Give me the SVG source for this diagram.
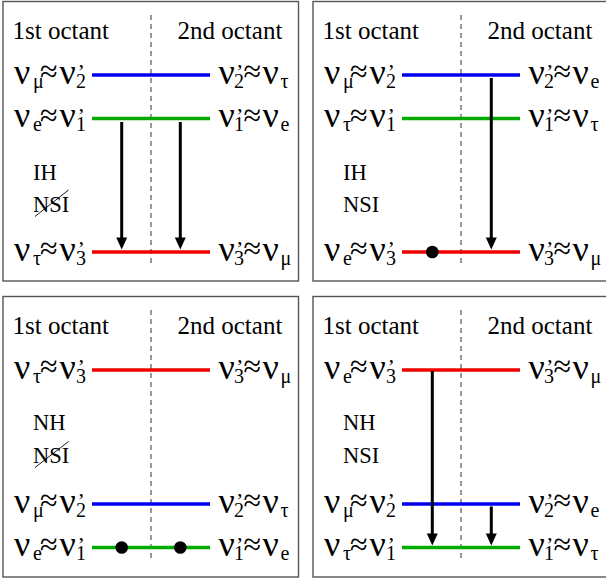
<svg xmlns="http://www.w3.org/2000/svg" width="606" height="583" viewBox="0 0 606 583">
<style>
text{font-family:"Liberation Serif"}
.o{font-size:25px}
.t{font-size:22.5px}
.b{font-size:36px}
.a{font-size:32px}
.s{font-size:20px}
.p{font-size:22px}
.fr{fill:#fff;stroke:#555;stroke-width:1.4}
.d{stroke:#555;stroke-width:1.2;stroke-dasharray:5 4}
.lv{stroke-width:3.5}
.B{stroke:#0000f0}
.G{stroke:#00aa00}
.R{stroke:#f00000}
.k{stroke:#000;stroke-width:.9}
.sh{stroke:#000;stroke-width:3}
.hd{fill:#000}
</style>
<rect width="606" height="583" fill="#fff"/>
<g id="panel1">
<rect class="fr" x="3" y="1.5" width="295.5" height="279.5"/>
<line class="d" x1="151" y1="15" x2="151" y2="267"/>
<text class="o" x="12.5" y="39">1st octant</text><text class="o" x="177.5" y="39">2nd octant</text>
<text class="t" x="33" y="180">IH</text><text class="t" x="33" y="211.5">NSI</text>
<line class="k" x1="35" y1="216.5" x2="68.5" y2="190"/>
<g id="p1-level2"><line class="lv B" x1="92" y1="75" x2="210" y2="75"/>
<text><tspan class="b" x="14" y="83.5">ν</tspan><tspan class="s" x="33" y="87.5">μ</tspan><tspan class="a" x="40" y="82">≈</tspan><tspan class="b" x="59.5" y="83.5">ν</tspan><tspan class="p" x="77.5" y="79">’</tspan><tspan class="s" x="76" y="87.5">2</tspan></text>
<text><tspan class="b" x="218.5" y="83.5">ν</tspan><tspan class="p" x="236" y="79">’</tspan><tspan class="s" x="234" y="87.5">2</tspan><tspan class="a" x="243.5" y="82">≈</tspan><tspan class="b" x="262.5" y="83.5">ν</tspan><tspan class="s" x="280.5" y="87.5">τ</tspan></text></g>
<g id="p1-level1"><line class="lv G" x1="92" y1="118.5" x2="210" y2="118.5"/>
<text><tspan class="b" x="14" y="127">ν</tspan><tspan class="s" x="33" y="131">e</tspan><tspan class="a" x="40" y="125.5">≈</tspan><tspan class="b" x="59.5" y="127">ν</tspan><tspan class="p" x="77.5" y="122.5">’</tspan><tspan class="s" x="76" y="131">1</tspan></text>
<text><tspan class="b" x="218.5" y="127">ν</tspan><tspan class="p" x="236" y="122.5">’</tspan><tspan class="s" x="234" y="131">1</tspan><tspan class="a" x="243.5" y="125.5">≈</tspan><tspan class="b" x="262.5" y="127">ν</tspan><tspan class="s" x="280.5" y="131">e</tspan></text></g>
<g id="p1-level3"><line class="lv R" x1="92" y1="252" x2="210" y2="252"/>
<text><tspan class="b" x="14" y="260.5">ν</tspan><tspan class="s" x="33" y="264.5">τ</tspan><tspan class="a" x="40" y="259">≈</tspan><tspan class="b" x="59.5" y="260.5">ν</tspan><tspan class="p" x="77.5" y="256">’</tspan><tspan class="s" x="76" y="264.5">3</tspan></text>
<text><tspan class="b" x="218.5" y="260.5">ν</tspan><tspan class="p" x="236" y="256">’</tspan><tspan class="s" x="234" y="264.5">3</tspan><tspan class="a" x="243.5" y="259">≈</tspan><tspan class="b" x="262.5" y="260.5">ν</tspan><tspan class="s" x="280.5" y="264.5">μ</tspan></text></g>
</g>
<g id="panel2" transform="translate(310,0)">
<rect class="fr" x="3" y="1.5" width="295.5" height="279.5"/>
<line class="d" x1="151" y1="15" x2="151" y2="267"/>
<text class="o" x="12.5" y="39">1st octant</text><text class="o" x="177.5" y="39">2nd octant</text>
<text class="t" x="33" y="180">IH</text><text class="t" x="33" y="211.5">NSI</text>
<g id="p2-level2"><line class="lv B" x1="92" y1="75" x2="210" y2="75"/>
<text><tspan class="b" x="14" y="83.5">ν</tspan><tspan class="s" x="33" y="87.5">μ</tspan><tspan class="a" x="40" y="82">≈</tspan><tspan class="b" x="59.5" y="83.5">ν</tspan><tspan class="p" x="77.5" y="79">’</tspan><tspan class="s" x="76" y="87.5">2</tspan></text>
<text><tspan class="b" x="218.5" y="83.5">ν</tspan><tspan class="p" x="236" y="79">’</tspan><tspan class="s" x="234" y="87.5">2</tspan><tspan class="a" x="243.5" y="82">≈</tspan><tspan class="b" x="262.5" y="83.5">ν</tspan><tspan class="s" x="280.5" y="87.5">e</tspan></text></g>
<g id="p2-level1"><line class="lv G" x1="92" y1="118.5" x2="210" y2="118.5"/>
<text><tspan class="b" x="14" y="127">ν</tspan><tspan class="s" x="33" y="131">τ</tspan><tspan class="a" x="40" y="125.5">≈</tspan><tspan class="b" x="59.5" y="127">ν</tspan><tspan class="p" x="77.5" y="122.5">’</tspan><tspan class="s" x="76" y="131">1</tspan></text>
<text><tspan class="b" x="218.5" y="127">ν</tspan><tspan class="p" x="236" y="122.5">’</tspan><tspan class="s" x="234" y="131">1</tspan><tspan class="a" x="243.5" y="125.5">≈</tspan><tspan class="b" x="262.5" y="127">ν</tspan><tspan class="s" x="280.5" y="131">τ</tspan></text></g>
<g id="p2-level3"><line class="lv R" x1="92" y1="252" x2="210" y2="252"/>
<text><tspan class="b" x="14" y="260.5">ν</tspan><tspan class="s" x="33" y="264.5">e</tspan><tspan class="a" x="40" y="259">≈</tspan><tspan class="b" x="59.5" y="260.5">ν</tspan><tspan class="p" x="77.5" y="256">’</tspan><tspan class="s" x="76" y="264.5">3</tspan></text>
<text><tspan class="b" x="218.5" y="260.5">ν</tspan><tspan class="p" x="236" y="256">’</tspan><tspan class="s" x="234" y="264.5">3</tspan><tspan class="a" x="243.5" y="259">≈</tspan><tspan class="b" x="262.5" y="260.5">ν</tspan><tspan class="s" x="280.5" y="264.5">μ</tspan></text>
<circle cx="122.3" cy="252" r="6.3"/></g>
</g>
<g id="panel3" transform="translate(0,295)">
<rect class="fr" x="3" y="1.5" width="295.5" height="280.5"/>
<line class="d" x1="151" y1="15" x2="151" y2="267"/>
<text class="o" x="12.5" y="39">1st octant</text><text class="o" x="177.5" y="39">2nd octant</text>
<text class="t" x="33" y="135">NH</text><text class="t" x="33" y="168">NSI</text>
<line class="k" x1="35" y1="172.5" x2="68.5" y2="146.5"/>
<g id="p3-level3"><line class="lv R" x1="92" y1="75" x2="210" y2="75"/>
<text><tspan class="b" x="14" y="83.5">ν</tspan><tspan class="s" x="33" y="87.5">τ</tspan><tspan class="a" x="40" y="82">≈</tspan><tspan class="b" x="59.5" y="83.5">ν</tspan><tspan class="p" x="77.5" y="79">’</tspan><tspan class="s" x="76" y="87.5">3</tspan></text>
<text><tspan class="b" x="218.5" y="83.5">ν</tspan><tspan class="p" x="236" y="79">’</tspan><tspan class="s" x="234" y="87.5">3</tspan><tspan class="a" x="243.5" y="82">≈</tspan><tspan class="b" x="262.5" y="83.5">ν</tspan><tspan class="s" x="280.5" y="87.5">μ</tspan></text></g>
<g id="p3-level2"><line class="lv B" x1="92" y1="209" x2="210" y2="209"/>
<text><tspan class="b" x="14" y="217.5">ν</tspan><tspan class="s" x="33" y="221.5">μ</tspan><tspan class="a" x="40" y="216">≈</tspan><tspan class="b" x="59.5" y="217.5">ν</tspan><tspan class="p" x="77.5" y="213">’</tspan><tspan class="s" x="76" y="221.5">2</tspan></text>
<text><tspan class="b" x="218.5" y="217.5">ν</tspan><tspan class="p" x="236" y="213">’</tspan><tspan class="s" x="234" y="221.5">2</tspan><tspan class="a" x="243.5" y="216">≈</tspan><tspan class="b" x="262.5" y="217.5">ν</tspan><tspan class="s" x="280.5" y="221.5">τ</tspan></text></g>
<g id="p3-level1"><line class="lv G" x1="92" y1="252.5" x2="210" y2="252.5"/>
<text><tspan class="b" x="14" y="261">ν</tspan><tspan class="s" x="33" y="265">e</tspan><tspan class="a" x="40" y="259.5">≈</tspan><tspan class="b" x="59.5" y="261">ν</tspan><tspan class="p" x="77.5" y="256.5">’</tspan><tspan class="s" x="76" y="265">1</tspan></text>
<text><tspan class="b" x="218.5" y="261">ν</tspan><tspan class="p" x="236" y="256.5">’</tspan><tspan class="s" x="234" y="265">1</tspan><tspan class="a" x="243.5" y="259.5">≈</tspan><tspan class="b" x="262.5" y="261">ν</tspan><tspan class="s" x="280.5" y="265">e</tspan></text>
<circle cx="121.7" cy="252.5" r="6.3"/><circle cx="180.3" cy="252.5" r="6.3"/></g>
</g>
<g id="panel4" transform="translate(310,295)">
<rect class="fr" x="3" y="1.5" width="295.5" height="280.5"/>
<line class="d" x1="151" y1="15" x2="151" y2="267"/>
<text class="o" x="12.5" y="39">1st octant</text><text class="o" x="177.5" y="39">2nd octant</text>
<text class="t" x="33" y="135">NH</text><text class="t" x="33" y="168">NSI</text>
<g id="p4-level3"><line class="lv R" x1="92" y1="75" x2="210" y2="75"/>
<text><tspan class="b" x="14" y="83.5">ν</tspan><tspan class="s" x="33" y="87.5">e</tspan><tspan class="a" x="40" y="82">≈</tspan><tspan class="b" x="59.5" y="83.5">ν</tspan><tspan class="p" x="77.5" y="79">’</tspan><tspan class="s" x="76" y="87.5">3</tspan></text>
<text><tspan class="b" x="218.5" y="83.5">ν</tspan><tspan class="p" x="236" y="79">’</tspan><tspan class="s" x="234" y="87.5">3</tspan><tspan class="a" x="243.5" y="82">≈</tspan><tspan class="b" x="262.5" y="83.5">ν</tspan><tspan class="s" x="280.5" y="87.5">μ</tspan></text></g>
<g id="p4-level2"><line class="lv B" x1="92" y1="209" x2="210" y2="209"/>
<text><tspan class="b" x="14" y="217.5">ν</tspan><tspan class="s" x="33" y="221.5">μ</tspan><tspan class="a" x="40" y="216">≈</tspan><tspan class="b" x="59.5" y="217.5">ν</tspan><tspan class="p" x="77.5" y="213">’</tspan><tspan class="s" x="76" y="221.5">2</tspan></text>
<text><tspan class="b" x="218.5" y="217.5">ν</tspan><tspan class="p" x="236" y="213">’</tspan><tspan class="s" x="234" y="221.5">2</tspan><tspan class="a" x="243.5" y="216">≈</tspan><tspan class="b" x="262.5" y="217.5">ν</tspan><tspan class="s" x="280.5" y="221.5">e</tspan></text></g>
<g id="p4-level1"><line class="lv G" x1="92" y1="252.5" x2="210" y2="252.5"/>
<text><tspan class="b" x="14" y="261">ν</tspan><tspan class="s" x="33" y="265">τ</tspan><tspan class="a" x="40" y="259.5">≈</tspan><tspan class="b" x="59.5" y="261">ν</tspan><tspan class="p" x="77.5" y="256.5">’</tspan><tspan class="s" x="76" y="265">1</tspan></text>
<text><tspan class="b" x="218.5" y="261">ν</tspan><tspan class="p" x="236" y="256.5">’</tspan><tspan class="s" x="234" y="265">1</tspan><tspan class="a" x="243.5" y="259.5">≈</tspan><tspan class="b" x="262.5" y="261">ν</tspan><tspan class="s" x="280.5" y="265">τ</tspan></text></g>
</g>
<g id="connectors">
<line class="sh" x1="121.7" y1="122" x2="121.7" y2="238"/><path class="hd" d="M116.2,237.5 H127.2 L121.7,249.5 Z"/>
<line class="sh" x1="180.3" y1="122" x2="180.3" y2="238"/><path class="hd" d="M174.8,237.5 H185.8 L180.3,249.5 Z"/>
<line class="sh" x1="491.3" y1="78" x2="491.3" y2="238"/><path class="hd" d="M485.8,237.5 H496.8 L491.3,249.5 Z"/>
<line class="sh" x1="432.3" y1="371" x2="432.3" y2="534"/><path class="hd" d="M426.8,533.5 H437.8 L432.3,545.5 Z"/>
<line class="sh" x1="491.3" y1="506.5" x2="491.3" y2="534"/><path class="hd" d="M485.8,533.5 H496.8 L491.3,545.5 Z"/>
</g>
</svg>
